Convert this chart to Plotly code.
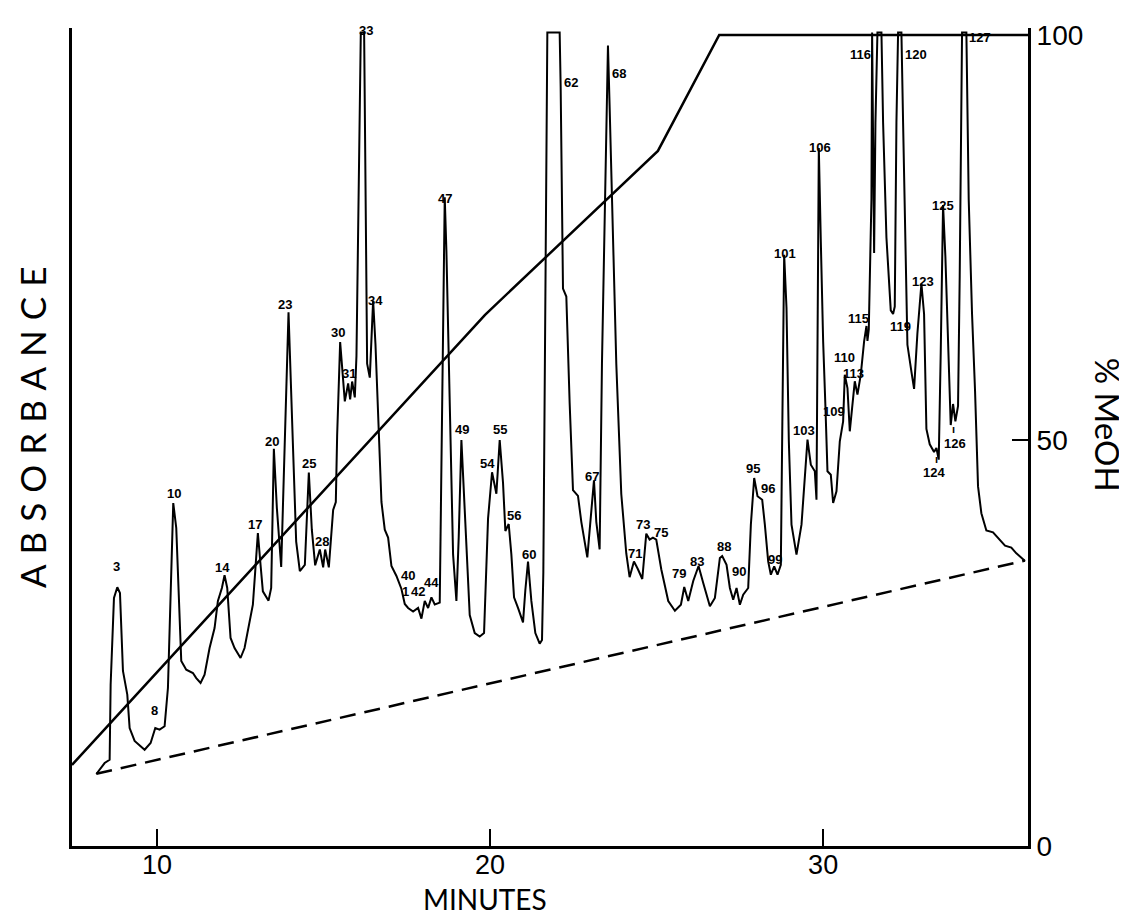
import plotly.graph_objects as go

# ---- chromatogram trace (minutes, relative absorbance on a 0-100 scale) ----
time_min = [
    8.18, 8.43, 8.58, 8.61, 8.71, 8.81, 8.89, 8.93, 8.98, 9.11, 9.18, 9.33, 9.63, 9.81, 9.95,
    10.08, 10.23, 10.33, 10.41, 10.49, 10.58, 10.68, 10.73, 10.88, 11.08, 11.18, 11.31, 11.43,
    11.58, 11.73, 11.83, 11.95, 12.03, 12.11, 12.21, 12.33, 12.51, 12.63, 12.78, 12.88, 12.95,
    13.03, 13.11, 13.18, 13.35, 13.43, 13.51, 13.60, 13.73, 13.83, 13.95, 14.08, 14.18, 14.29,
    14.44, 14.56, 14.65, 14.75, 14.89, 14.99, 15.05, 15.16, 15.29, 15.37, 15.41, 15.50, 15.59,
    15.64, 15.74, 15.80, 15.86, 15.94, 15.99, 16.06, 16.12, 16.22, 16.27, 16.31, 16.39, 16.49,
    16.56, 16.64, 16.74, 16.84, 16.94, 17.04, 17.19, 17.34, 17.44, 17.54, 17.69, 17.84, 17.94,
    18.04, 18.14, 18.24, 18.34, 18.49, 18.54, 18.59, 18.64, 18.69, 18.76, 18.82, 18.89, 18.99,
    19.06, 19.14, 19.22, 19.29, 19.39, 19.54, 19.69, 19.82, 19.94, 20.06, 20.19, 20.29, 20.39,
    20.46, 20.56, 20.64, 20.72, 20.84, 20.99, 21.06, 21.14, 21.24, 21.36, 21.49, 21.56, 21.60,
    21.65, 21.72, 22.09, 22.12, 22.19, 22.29, 22.39, 22.49, 22.64, 22.74, 22.92, 23.02, 23.12,
    23.19, 23.29, 23.36, 23.46, 23.54, 23.59, 23.69, 23.79, 23.94, 24.09, 24.19, 24.32, 24.44,
    24.57, 24.69, 24.79, 24.89, 24.99, 25.14, 25.35, 25.55, 25.73, 25.83, 25.95, 26.10, 26.26,
    26.40, 26.60, 26.75, 26.90, 26.97, 27.10, 27.20, 27.30, 27.40, 27.50, 27.60, 27.75, 27.83,
    27.93, 28.03, 28.17, 28.25, 28.35, 28.43, 28.53, 28.63, 28.73, 28.78, 28.83, 28.90, 28.97,
    29.05, 29.20, 29.35, 29.45, 29.53, 29.63, 29.75, 29.80, 29.83, 29.87, 29.93, 30.00, 30.07,
    30.13, 30.23, 30.30, 30.40, 30.50, 30.60, 30.65, 30.73, 30.80, 30.87, 30.95, 31.03, 31.13,
    31.23, 31.30, 31.33, 31.37, 31.45, 31.47, 31.53, 31.57, 31.63, 31.75, 31.80, 31.90, 32.03,
    32.10, 32.15, 32.20, 32.25, 32.35, 32.40, 32.47, 32.53, 32.65, 32.73, 32.83, 32.95, 33.03,
    33.10, 33.20, 33.33, 33.40, 33.47, 33.53, 33.60, 33.67, 33.75, 33.83, 33.90, 33.97, 34.05,
    34.10, 34.17, 34.30, 34.37, 34.47, 34.56, 34.65, 34.75, 34.90, 35.10, 35.25, 35.46, 35.65,
    35.80, 36.06,
]
absorbance = [
    8.88, 10.23, 10.64, 19.89, 30.58, 31.90, 31.19, 26.88, 21.58, 18.66, 14.55, 12.95, 11.87, 12.70, 14.55,
    14.34, 14.76, 19.48, 29.75, 42.29, 39.21, 26.88, 22.81, 21.74, 21.33, 20.71, 20.10, 21.12,
    24.41, 26.88, 30.21, 31.81, 33.38, 31.81, 25.65, 24.41, 23.18, 24.41, 27.71, 29.75, 33.87,
    38.59, 34.68, 31.40, 30.25, 31.81, 48.99, 41.68, 34.40, 47.84, 65.81, 49.71, 37.53, 33.88,
    34.65, 46.06, 39.00, 34.61, 36.56, 34.36, 36.56, 34.36, 41.43, 42.42, 50.68, 62.14, 58.00,
    54.83, 57.03, 55.08, 57.27, 55.32, 60.44, 83.84, 100.3, 100.3, 78.96, 59.47, 57.75, 67.26,
    61.90, 52.16, 42.42, 39.00, 38.03, 34.52, 33.29, 31.69, 29.84, 29.35, 28.90, 29.35, 28.03,
    30.22, 29.35, 30.66, 29.79, 30.01, 46.98, 64.61, 79.98, 73.38, 60.17, 46.98, 35.95, 30.22,
    38.15, 50.06, 42.55, 35.95, 28.48, 26.26, 25.82, 26.26, 40.36, 46.08, 43.44, 50.06, 44.76,
    38.84, 39.70, 35.95, 30.66, 29.35, 27.58, 31.56, 35.07, 30.22, 26.26, 24.94, 25.40, 33.78,
    66.33, 100.3, 100.3, 93.58, 68.73, 67.75, 54.62, 43.89, 43.16, 39.97, 35.58, 39.97, 45.09,
    39.97, 36.56, 59.47, 83.84, 98.70, 91.14, 74.10, 59.47, 43.40, 36.07, 33.14, 35.09, 34.12,
    32.92, 38.51, 37.78, 38.03, 37.78, 34.12, 30.21, 29.00, 29.74, 31.93, 30.21, 32.67, 34.52,
    32.43, 29.55, 30.58, 35.51, 35.76, 34.68, 31.81, 30.37, 31.81, 29.75, 30.99, 31.81, 39.62,
    45.37, 43.12, 42.70, 39.62, 35.10, 33.45, 34.49, 33.45, 34.68, 54.01, 72.91, 66.34, 49.90,
    39.62, 35.92, 39.62, 45.78, 50.10, 47.01, 46.20, 42.70, 58.11, 86.06, 74.56, 62.23, 54.01,
    46.20, 45.78, 42.29, 43.73, 49.90, 52.36, 58.11, 56.47, 51.13, 54.01, 57.30, 55.65, 58.11,
    62.23, 64.12, 62.27, 63.68, 79.78, 100.3, 73.12, 89.17, 100.3, 100.3, 89.17, 75.02, 66.05,
    65.60, 66.52, 89.17, 100.3, 100.3, 89.17, 75.02, 61.80, 58.49, 56.37, 63.22, 69.36, 65.60,
    51.42, 49.53, 48.58, 49.07, 47.64, 60.86, 79.04, 72.65, 60.86, 51.90, 54.50, 52.36, 54.25,
    70.28, 100.3, 100.3, 79.73, 65.60, 56.14, 44.34, 41.03, 38.91, 38.68, 37.98, 37.03, 36.79,
    36.09, 35.14,
]

# ---- solvent gradient (% MeOH) ----
grad_time = [7.45, 19.85, 25.04, 26.88, 36.15]
grad_meoh = [10.0, 65.5, 85.7, 100.0, 100.0]

# ---- dashed baseline ----
base_time = [8.18, 36.06]
base_abs = [8.9, 35.2]

# ---- peak numbers ----
peak_names = ["3", "8", "10", "14", "17", "20", "23", "25", "28", "30", "31", "33", "34",
              "40", "1", "42", "44", "47", "49", "54", "55", "56", "60", "62", "67", "68",
              "71", "73", "75", "79", "83", "88", "90", "95", "96", "99", "101", "103",
              "106", "109", "110", "113", "115", "116", "119", "120", "123", "124", "125",
              "126", "127"]
peak_time = [8.80, 9.92, 10.50, 11.98, 12.94, 13.45, 13.84, 14.56, 14.95, 15.44, 15.77, 16.28, 16.55,
             17.54, 17.45, 17.84, 18.23, 18.65, 19.16, 19.91, 20.30, 20.72, 21.17, 22.43, 23.06, 23.87,
             24.35, 24.59, 25.14, 25.68, 26.22, 27.03, 27.46, 27.90, 28.35, 28.56, 28.86, 29.43,
             29.91, 30.34, 30.64, 30.91, 31.06, 31.12, 32.32, 32.79, 33.01, 33.33, 33.60,
             33.96, 34.71]
peak_label_y = [33.3, 15.5, 43.5, 34.4, 39.6, 49.9, 66.8, 47.2, 37.6, 63.3, 58.2, 101.7, 68.4,
                32.2, 30.2, 30.2, 31.3, 81.0, 51.3, 47.2, 51.3, 40.7, 36.0, 95.3, 45.5, 96.4,
                36.1, 39.7, 38.7, 32.4, 35.1, 36.9, 32.7, 46.5, 44.1, 35.3, 74.2, 51.2,
                87.3, 53.6, 60.2, 58.2, 65.0, 98.8, 64.1, 98.8, 70.8, 46.1, 80.1,
                49.6, 100.9]
tick_mark_time = [33.39, 33.90]
tick_mark_y = [47.7, 51.4]

x_ticks = [10, 20, 30]
meoh_ticks = [0, 50, 100]

X_RANGE = [7.45, 36.15]
Y_RANGE = [0, 100.86]
TITLE_FONT = "Lato, Open Sans, DejaVu Sans, sans-serif"
DIGIT_FONT = "Liberation Sans Narrow, Arial Narrow, Liberation Sans, sans-serif"
LABEL_FONT = "Liberation Sans Narrow, Arial Narrow, Liberation Sans, sans-serif"

fig = go.Figure()
fig.add_trace(go.Scatter(x=time_min, y=absorbance, mode="lines",
                         line=dict(color="black", width=2), showlegend=False, hoverinfo="skip"))
fig.add_trace(go.Scatter(x=base_time, y=base_abs, mode="lines",
                         line=dict(color="black", width=2.5, dash="16px,9px"),
                         showlegend=False, hoverinfo="skip"))
fig.add_trace(go.Scatter(x=grad_time, y=grad_meoh, mode="lines", yaxis="y2",
                         line=dict(color="black", width=2.5), showlegend=False, hoverinfo="skip"))

annotations = []
for name, t, a in zip(peak_names, peak_time, peak_label_y):
    annotations.append(dict(x=t, y=a / Y_RANGE[1], xref="x", yref="paper", text=name, showarrow=False,
                            font=dict(family=LABEL_FONT, size=13, color="black", weight="bold")))
for t, a in zip(tick_mark_time, tick_mark_y):
    annotations.append(dict(x=t, y=a / Y_RANGE[1], xref="x", yref="paper", text="ı", showarrow=False,
                            font=dict(family="Liberation Sans", size=11, color="black", weight="bold")))

annotations += [
    dict(text='<span style="letter-spacing:10px">ABSORBANCE</span>', x=-0.042, y=0.518,
         xref="paper", yref="paper", xanchor="center", yanchor="middle", showarrow=False,
         textangle=-90, font=dict(family=TITLE_FONT, size=35, color="black")),
    dict(text="% MeOH", x=1.0837, y=0.515, xref="paper", yref="paper",
         xanchor="center", yanchor="middle", showarrow=False,
         textangle=90, font=dict(family=TITLE_FONT, size=33, color="black")),
    dict(text="MINUTES", x=0.432, y=-0.065, xref="paper", yref="paper", showarrow=False,
         xanchor="center", yanchor="middle", font=dict(family=TITLE_FONT, size=28, color="black")),
]

fig.update_layout(
    width=1127, height=922,
    margin=dict(l=64, r=107, t=20, b=84),
    paper_bgcolor="white", plot_bgcolor="white",
    xaxis=dict(range=X_RANGE, tickvals=x_ticks, ticks="inside", ticklen=17, tickwidth=2,
               tickcolor="black", showline=True, linecolor="black", linewidth=3,
               showgrid=False, zeroline=False, ticklabelstandoff=-7,
               tickfont=dict(family=DIGIT_FONT, size=27, color="black")),
    yaxis=dict(range=Y_RANGE, showticklabels=False, ticks="", showline=True,
               linecolor="black", linewidth=3, showgrid=False, zeroline=False),
    yaxis2=dict(range=Y_RANGE, overlaying="y", side="right", tickvals=meoh_ticks,
                ticks="inside", ticklen=16, tickwidth=2, tickcolor="black",
                showline=True, linecolor="black", linewidth=3, showgrid=False, zeroline=False,
                tickfont=dict(family=DIGIT_FONT, size=28, color="black")),
    annotations=annotations,
)

fig.write_html("out.html")
